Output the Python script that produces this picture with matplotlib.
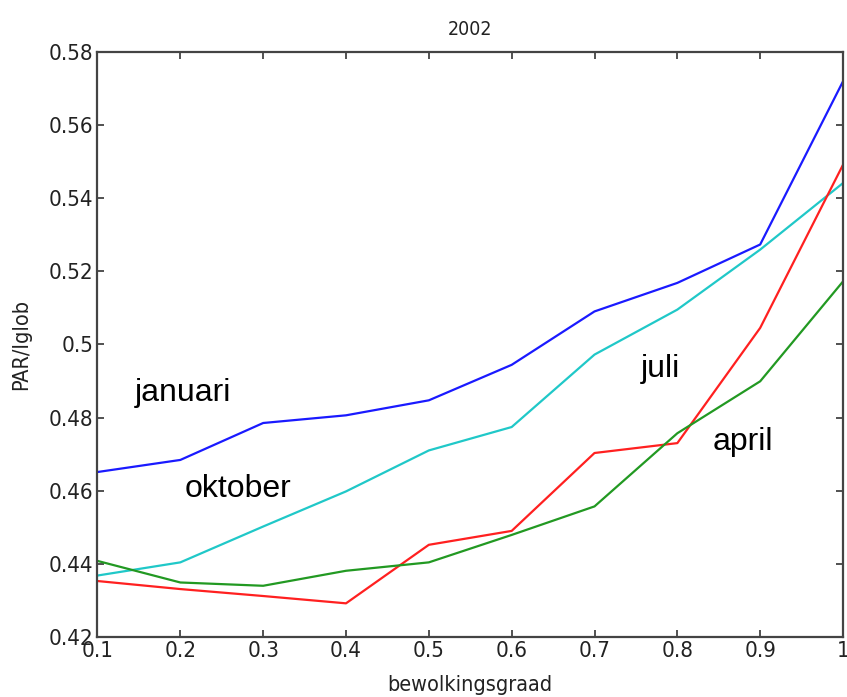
import numpy as np
import matplotlib
matplotlib.use("Agg")
import matplotlib.pyplot as plt

# bewolkingsgraad (cloud cover fraction)
bewolking = [0.1, 0.2, 0.3, 0.4, 0.5, 0.6, 0.7, 0.8, 0.9, 1.0]

# PAR/Iglob per month, 2002
januari = [0.4651, 0.4684, 0.4785, 0.4806, 0.4847, 0.4944, 0.5090, 0.5168, 0.5273, 0.5719]
oktober = [0.4368, 0.4404, 0.4502, 0.4598, 0.4710, 0.4774, 0.4972, 0.5095, 0.5259, 0.5441]
juli = [0.4353, 0.4331, 0.4312, 0.4292, 0.4452, 0.4490, 0.4703, 0.4730, 0.5045, 0.5491]
april = [0.4408, 0.4349, 0.4340, 0.4381, 0.4404, 0.4479, 0.4557, 0.4757, 0.4899, 0.5172]

xticks = [0.1, 0.2, 0.3, 0.4, 0.5, 0.6, 0.7, 0.8, 0.9, 1]
xtick_labels = ['0.1', '0.2', '0.3', '0.4', '0.5', '0.6', '0.7', '0.8', '0.9', '1']
yticks = [0.42, 0.44, 0.46, 0.48, 0.5, 0.52, 0.54, 0.56, 0.58]
ytick_labels = ['0.42', '0.44', '0.46', '0.48', '0.5', '0.52', '0.54', '0.56', '0.58']

plt.rcParams['font.family'] = ['DejaVu Sans']

fig = plt.figure(figsize=(8.47, 6.97), dpi=100)
ax = fig.add_axes([0.1151, 0.0861, 0.8802, 0.8397])

ax.plot(bewolking, januari, color='#1a1aff', linewidth=1.6)
ax.plot(bewolking, oktober, color='#20c8c8', linewidth=1.6)
ax.plot(bewolking, juli, color='#ff2020', linewidth=1.6)
ax.plot(bewolking, april, color='#229922', linewidth=1.6)

ax.set_xlim(0.1, 1)
ax.set_ylim(0.42, 0.58)
ax.set_xticks(xticks)
ax.set_xticklabels(xtick_labels)
ax.set_yticks(yticks)
ax.set_yticklabels(ytick_labels)
ax.tick_params(direction='in', length=5, width=1.2, top=True, right=True,
               labelsize=16, color='#333333', labelcolor='#222222', pad=3)
for lab in ax.get_xticklabels() + ax.get_yticklabels():
    lab.set_fontstretch('condensed')
for s in ax.spines.values():
    s.set_linewidth(1.6)
    s.set_color('#444444')

ax.set_title('2002', fontsize=14, pad=12, color='#222222', fontstretch='condensed')
ax.set_xlabel('bewolkingsgraad', fontsize=15.5, labelpad=10, color='#222222',
              fontstretch='condensed')
ax.set_ylabel('PAR/Iglob', fontsize=15.5, labelpad=13, color='#222222',
              fontstretch='condensed')

# month names inside the plot
lbl = dict(fontsize=23, family='Liberation Sans', color='black', ha='left', va='baseline')
ax.text(0.1453, 0.4844, 'januari', **lbl)
ax.text(0.2048, 0.4584, 'oktober', **lbl)
ax.text(0.7558, 0.4912, 'juli', **lbl)
ax.text(0.8427, 0.4712, 'april', **lbl)

fig.savefig('out.png', dpi=100)
